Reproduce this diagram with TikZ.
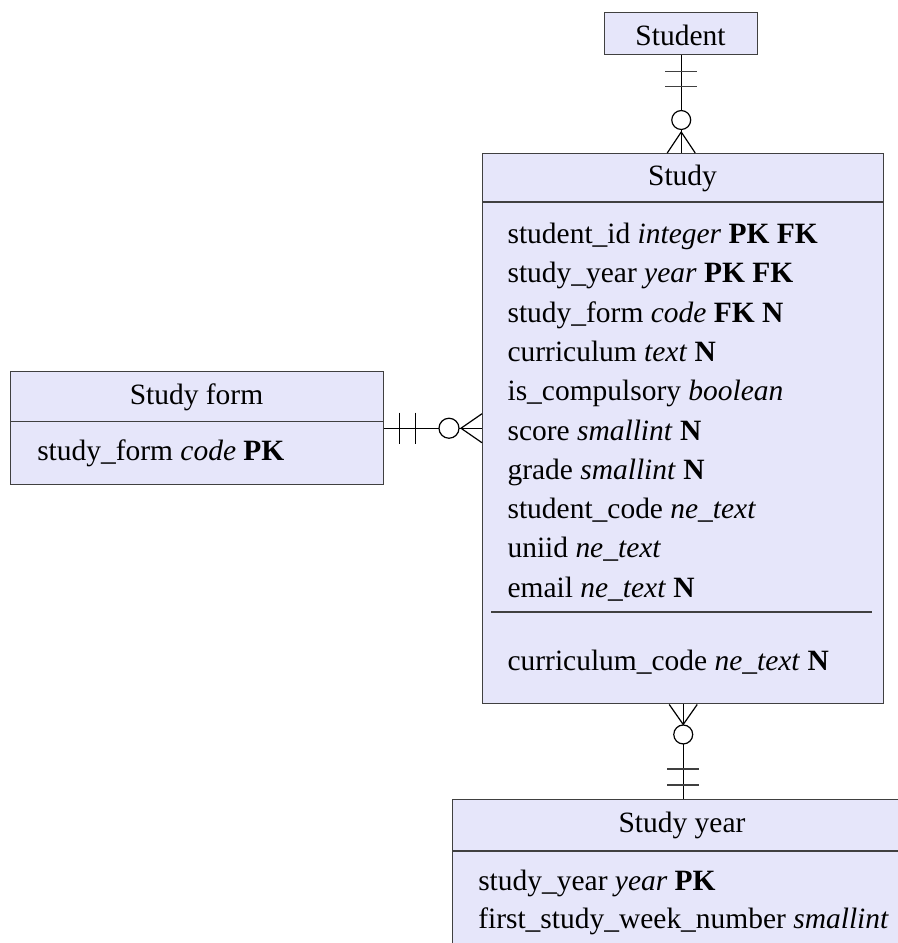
\documentclass[tikz,border=0pt]{standalone}
\usepackage{fontspec}
\setmainfont{Liberation Serif}
\usetikzlibrary{calc}
\definecolor{entityfill}{HTML}{E6E6FA}
\definecolor{entityline}{HTML}{404040}
\begin{document}
\begin{tikzpicture}[x=0.75pt,y=-0.75pt,
  entity/.style={draw=entityline, fill=entityfill, line width=1.1pt, rectangle, inner sep=0pt, anchor=north west},
  title/.style={anchor=base, inner sep=0pt, font=\fontsize{22.1pt}{26pt}\selectfont},
  attr/.style={anchor=base west, inner sep=0pt, font=\fontsize{22.1pt}{26pt}\selectfont},
  rel/.style={draw=black, line width=0.9pt},
  tick/.style={draw=entityline, line width=1pt},
  divider/.style={draw=entityline, line width=1pt}]
\useasboundingbox (0,0) rectangle (897,943);

% ---------- Student ----------
\node[entity, minimum width=153*0.75pt, minimum height=42*0.75pt] (student) at (604,12) {};
\node[title] (studentT) at (680.5,45) {Student};

% ---------- Study ----------
\node[entity, minimum width=401*0.75pt, minimum height=550*0.75pt] (study) at (482,153) {};
\node[title] (studyT) at (682.5,185) {Study};
\draw[divider] (study.west |- 0,202) -- (study.east |- 0,202);
\node[attr] (sa1)  at (507.3,243.5) {student\_id \textit{integer} \textbf{PK FK}};
\node[attr] (sa2)  at (507.3,282.8) {study\_year \textit{year} \textbf{PK FK}};
\node[attr] (sa3)  at (507.3,322.1) {study\_form \textit{code} \textbf{FK N}};
\node[attr] (sa4)  at (507.3,361.4) {curriculum \textit{text} \textbf{N}};
\node[attr] (sa5)  at (507.3,400.7) {is\_compulsory \textit{boolean}};
\node[attr] (sa6)  at (507.3,440.0) {score \textit{smallint} \textbf{N}};
\node[attr] (sa7)  at (507.3,479.3) {grade \textit{smallint} \textbf{N}};
\node[attr] (sa8)  at (507.3,518.6) {student\_code \textit{ne\_text}};
\node[attr] (sa9)  at (507.3,557.9) {uniid \textit{ne\_text}};
\node[attr] (sa10) at (507.3,597.2) {email \textit{ne\_text} \textbf{N}};
\draw[divider] (491,612) -- (872,612);
\node[attr] (sa11) at (507.3,670.7) {curriculum\_code \textit{ne\_text} \textbf{N}};

% ---------- Study form ----------
\node[entity, minimum width=373*0.75pt, minimum height=113*0.75pt] (sform) at (10,371) {};
\node[title] (sformT) at (196.5,404.3) {Study form};
\draw[divider] (sform.west |- 0,421.7) -- (sform.east |- 0,421.7);
\node[attr] (sf1) at (37,460.7) {study\_form \textit{code} \textbf{PK}};

% ---------- Study year ----------
\node[entity, minimum width=460*0.75pt, minimum height=160*0.75pt] (syear) at (452,799) {};
\node[title] (syearT) at (682,832.7) {Study year};
\draw[divider] (syear.west |- 0,851) -- (syear.east |- 0,851);
\node[attr] (sy1) at (478,890) {study\_year \textit{year} \textbf{PK}};
\node[attr] (sy2) at (478,928) {first\_study\_week\_number \textit{smallint}};

% ---------- Student ||--o< Study ----------
\coordinate (r1a) at (student.south);
\coordinate (r1b) at (student.south |- study.north);
\draw[rel] (r1a) -- (r1b);
\draw[tick] ($(r1a)+(-16,16)$) -- ($(r1a)+(16,16)$);
\draw[tick] ($(r1a)+(-16,31)$) -- ($(r1a)+(16,31)$);
\draw[rel, fill=white] ($(r1b)+(0,-33)$) circle[radius=7.1pt];
\draw[rel] ($(r1b)+(-14,0)$) -- ($(r1b)+(0,-21)$) -- ($(r1b)+(14,0)$);

% ---------- Study form ||--o< Study ----------
\coordinate (r2a) at (sform.east);
\coordinate (r2b) at (study.west |- sform.east);
\draw[rel] (r2a) -- (r2b);
\draw[rel] ($(r2a)+(15,-15.5)$) -- ($(r2a)+(15,15.5)$);
\draw[rel] ($(r2a)+(31,-15.5)$) -- ($(r2a)+(31,15.5)$);
\draw[rel, fill=white] ($(r2b)+(-33,0)$) circle[radius=7.5pt];
\draw[rel] ($(r2b)+(0,-14.5)$) -- ($(r2b)+(-21,0)$) -- ($(r2b)+(0,14.5)$);

% ---------- Study >o--|| Study year ----------
\coordinate (r3a) at (study.south);
\coordinate (r3b) at (study.south |- syear.north);
\draw[rel] (r3a) -- (r3b);
\draw[rel] ($(r3a)+(-14,0)$) -- ($(r3a)+(0,20)$) -- ($(r3a)+(14,0)$);
\draw[rel, fill=white] ($(r3a)+(0,30)$) circle[radius=7.1pt];
\draw[tick] ($(r3b)+(-16,-30)$) -- ($(r3b)+(16,-30)$);
\draw[tick] ($(r3b)+(-16,-14)$) -- ($(r3b)+(16,-14)$);
\end{tikzpicture}
\end{document}
